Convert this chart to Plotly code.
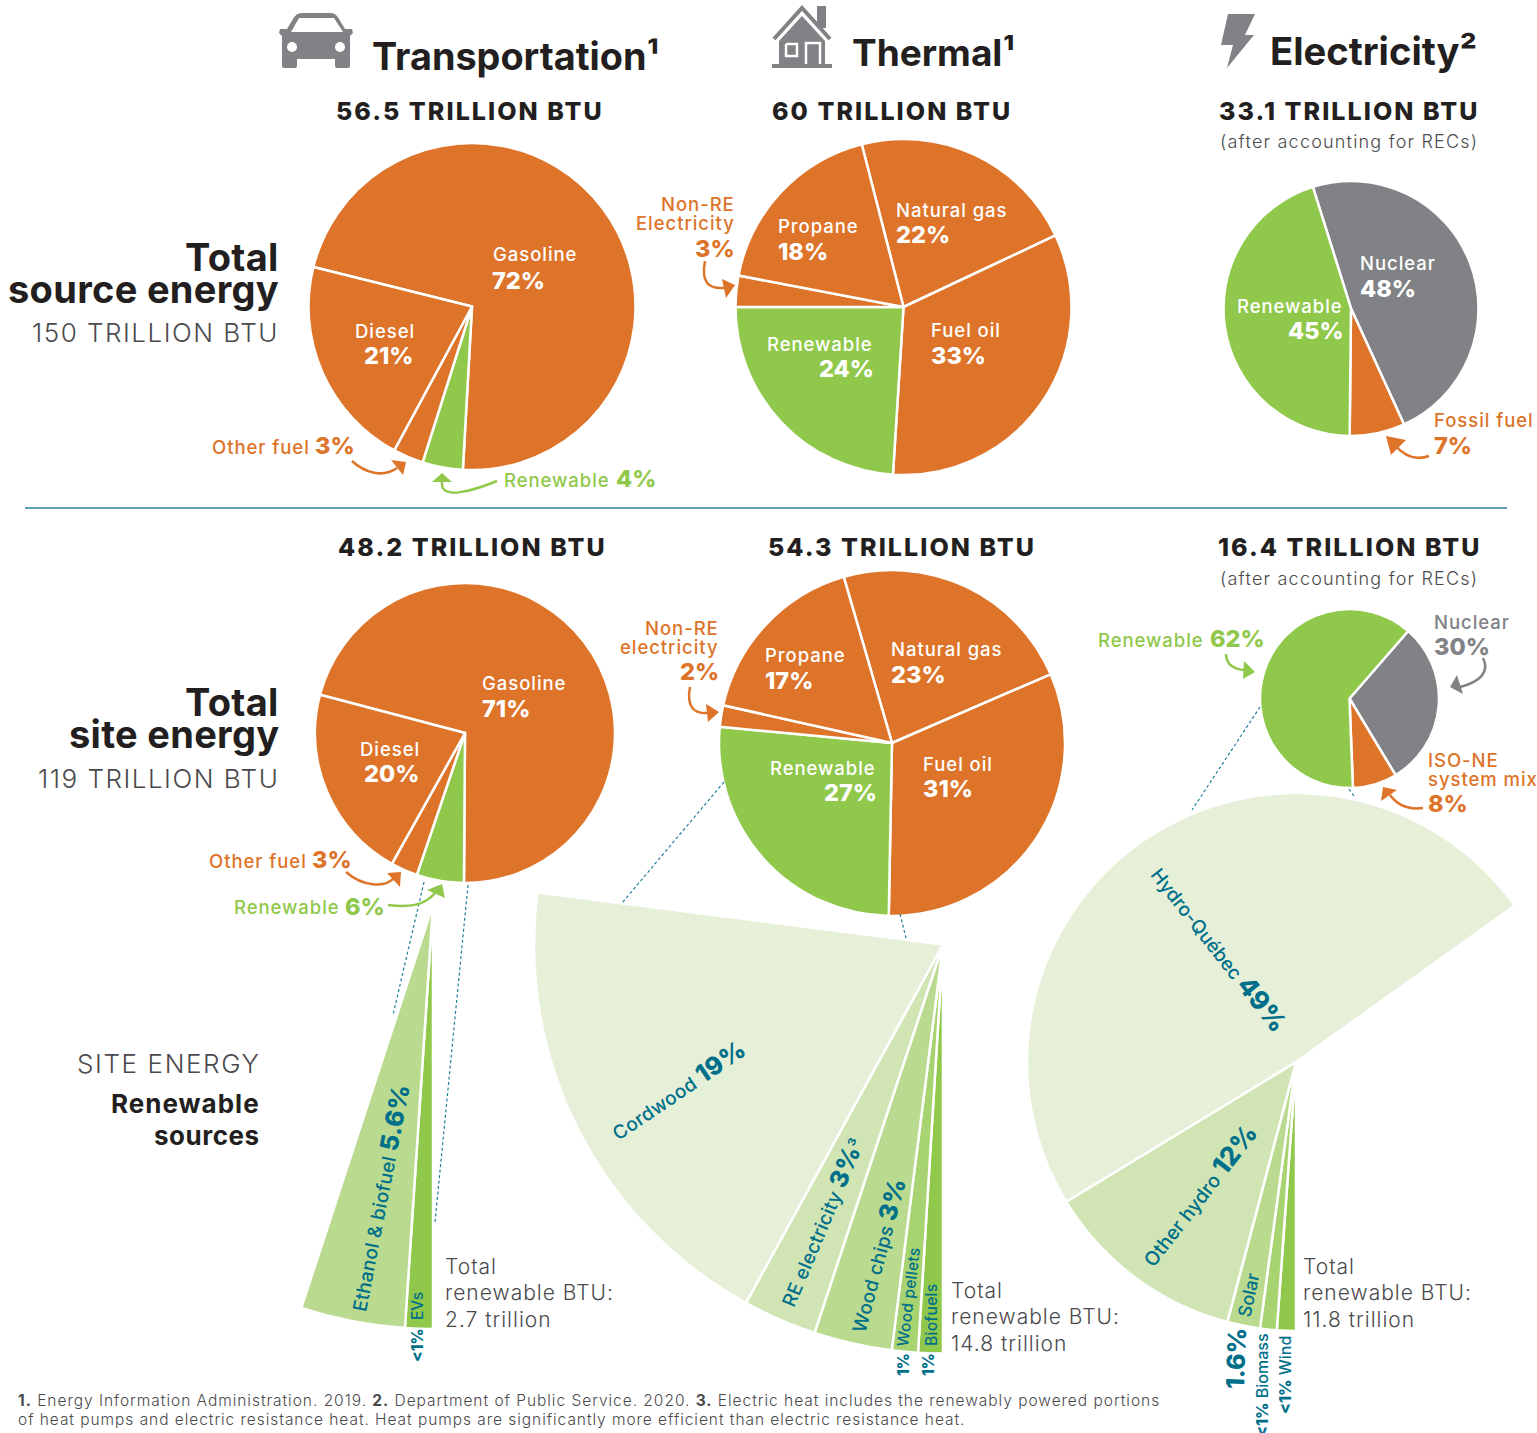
import plotly.graph_objects as go

W, H = 1600, 1433  # canvas runs a little past the 1537 window so the largest fan's full circle fits its domain
ORANGE = "#dd742a"; GREEN = "#90c84b"; GRAY = "#808285"; TEAL = "#006f8a"; INK = "#231f20"; SOFT = "#4a4a4c"
F1 = "#e6f0d8"; F2 = "#d0e5b3"; F3 = "#b9da8f"; F4 = "#a7d370"; F5 = GREEN
FONT = "Inter"

# --- main pies (shares)
src_trans_labels = ["Gasoline", "Renewable", "Other fuel", "Diesel"]
src_trans_values = [72, 4, 3, 21]
src_therm_labels = ["Natural gas", "Fuel oil", "Renewable", "Non-RE Electricity", "Propane"]
src_therm_values = [22, 33, 24, 3, 18]
src_elec_labels = ["Nuclear", "Fossil fuel", "Renewable"]
src_elec_values = [48, 7, 45]
site_trans_labels = ["Gasoline", "Renewable", "Other fuel", "Diesel"]
site_trans_values = [71, 5.1, 2.9, 21]
site_therm_labels = ["Natural gas", "Fuel oil", "Renewable", "Non-RE electricity", "Propane"]
site_therm_values = [23, 31.8, 26.2, 2, 17]
site_elec_labels = ["Nuclear", "ISO-NE system mix", "Renewable"]
site_elec_values = [30, 8, 62]

# --- renewable fans: angular widths (degrees of a full turn)
fan_trans_labels = ["EVs", "Ethanol & biofuel"]
fan_trans_values = [3.8, 14.3]
fan_therm_labels = ["Biofuels", "Wood pellets", "Wood chips", "RE electricity", "Cordwood"]
fan_therm_values = [3.5, 3.7, 11.1, 10.5, 68.5]
fan_elec_labels = ["Wind", "Biomass", "Solar", "Other hydro", "Hydro-Québec"]
fan_elec_values = [4.1, 3.6, 7.1, 43.9, 175.7]


def pie(labels, values, colors, cx, cy, r, rot, lw=2.5):
    return go.Pie(labels=labels, values=values, sort=False, direction="clockwise", rotation=rot,
                  domain=dict(x=[(cx - r) / W, (cx + r) / W], y=[1 - (cy + r) / H, 1 - (cy - r) / H]),
                  marker=dict(colors=colors, line=dict(color="white", width=lw)),
                  textinfo="none", hoverinfo="label+value", showlegend=False)


def fan(labels, values, colors, cx, cy, r, rot):
    rest = 360 - sum(values)
    return go.Pie(labels=labels + [" "], values=values + [rest], sort=False, direction="clockwise", rotation=rot,
                  domain=dict(x=[(cx - r) / W, (cx + r) / W], y=[1 - (cy + r) / H, 1 - (cy - r) / H]),
                  marker=dict(colors=colors + ["rgba(0,0,0,0)"],
                              line=dict(color="white", width=[2.5] * len(values) + [0])),
                  textinfo="none", hoverinfo="label", showlegend=False)


fig = go.Figure()
fig.add_trace(fan(fan_trans_labels, fan_trans_values, [F5, F3], 433, 905, 424, 180))
fig.add_trace(fan(fan_therm_labels, fan_therm_values, [F5, F4, F3, F2, F1], 943, 944.5, 409, 180))
fig.add_trace(fan(fan_elec_labels, fan_elec_values, [F5, F4, F3, F2, F1], 1296, 1062, 269, 180))
fig.add_trace(pie(src_trans_labels, src_trans_values, [ORANGE, GREEN, ORANGE, ORANGE], 472, 306.5, 163.5, 284))
fig.add_trace(pie(src_therm_labels, src_therm_values, [ORANGE, ORANGE, GREEN, ORANGE, ORANGE], 903.5, 307, 168, -14.4))
fig.add_trace(pie(src_elec_labels, src_elec_values, [GRAY, ORANGE, GREEN], 1351, 308.5, 127.5, -17.4))
fig.add_trace(pie(site_trans_labels, site_trans_values, [ORANGE, GREEN, ORANGE, ORANGE], 465, 733, 150, 284.8))
fig.add_trace(pie(site_therm_labels, site_therm_values, [ORANGE, ORANGE, GREEN, ORANGE, ORANGE], 892, 743, 173, -16.2))
fig.add_trace(pie(site_elec_labels, site_elec_values, [GRAY, ORANGE, GREEN], 1349.5, 698.5, 89.5, 41))

annotations = []
shapes = []


def T(x, y, text, size=19, color=INK, anchor="left", weight=500, angle=0, sp=0):
    if anchor == "left":
        x -= 0.8
    elif anchor == "right":
        x += 2
    if sp:
        text = f'<span style="letter-spacing:{sp}px">{text}</span>'
    annotations.append(dict(x=x / W, y=1 - y / H, xref="paper", yref="paper", text=text, showarrow=False,
                            xanchor=anchor, yanchor="middle", textangle=angle, borderpad=0,
                            font=dict(family=FONT, size=size, color=color, weight=weight)))


def path(d, fill=None, stroke=None, width=0):
    # d is a list of (command, points) in page pixels
    s = ""
    for cmd, pts in d:
        if cmd == "L":
            s += " ".join(f"L{px / W:.5f},{1 - py / H:.5f}" for px, py in pts) + " "
        else:
            s += cmd + " ".join(f"{px / W:.5f},{1 - py / H:.5f}" for px, py in pts) + " "
    if fill:
        s += "Z"
    shapes.append(dict(type="path", path=s, xref="paper", yref="paper",
                       fillcolor=fill or "rgba(0,0,0,0)",
                       line=dict(color=stroke or "rgba(0,0,0,0)", width=width)))


def poly(points, fill):
    path([("M", [points[0]]), ("L", points[1:])], fill=fill)


def arrow(start, c1, c2, end, head, color):
    path([("M", [start]), ("C", [c1, c2, end])], stroke=color, width=2.5)
    poly(head, color)


def dash(a, b):
    shapes.append(dict(type="line", xref="paper", yref="paper", x0=a[0] / W, y0=1 - a[1] / H, x1=b[0] / W,
                       y1=1 - b[1] / H, line=dict(color="#1f7f9c", width=1.2, dash="3px,2.5px")))


def circle(cx, cy, r, fill):
    shapes.append(dict(type="circle", xref="paper", yref="paper", x0=(cx - r) / W, x1=(cx + r) / W,
                       y0=1 - (cy + r) / H, y1=1 - (cy - r) / H, fillcolor=fill, line=dict(width=0)))


# --- icons
path([("M", [(302, 13)]), ("L", [(331, 13)]), ("Q", [(336, 13), (339, 19)]), ("L", [(345, 29), (352, 29), (353, 33), (350, 36), (350, 66)]),
      ("Q", [(350, 68), (348, 68)]), ("L", [(337, 68)]), ("Q", [(335, 68), (335, 66)]), ("L", [(335, 59), (297, 59), (297, 66)]),
      ("Q", [(297, 68), (295, 68)]), ("L", [(284, 68)]), ("Q", [(282, 68), (282, 66)]), ("L", [(282, 36), (279, 33), (280, 29), (287, 29), (293, 19)]),
      ("Q", [(296, 13), (302, 13)])], fill=GRAY)
poly([(299, 18), (334, 18), (343, 32), (291, 32)], "white")
circle(292, 47, 5, "white")
circle(340, 47, 5, "white")
poly([(817, 6), (826, 6), (826, 28), (817, 28)], GRAY)
path([("M", [(774, 39)]), ("L", [(802, 8), (830, 39)])], stroke=GRAY, width=4)
poly([(802, 16), (779, 41), (779, 64), (825, 64), (825, 41)], GRAY)
poly([(772, 64), (832, 64), (832, 68), (772, 68)], GRAY)
path([("M", [(786, 44)]), ("L", [(797, 44), (797, 56), (786, 56), (786, 44)])], stroke="white", width=2.5)
path([("M", [(806, 64)]), ("L", [(806, 43), (820, 43), (820, 64)])], stroke="white", width=2.5)
poly([(1228, 14), (1255, 14), (1245, 35), (1254, 35), (1227, 68), (1233, 45), (1221, 45)], GRAY)

# --- divider and connectors
shapes.append(dict(type="line", xref="paper", yref="paper", x0=25 / W, x1=1507 / W, y0=1 - 508 / H, y1=1 - 508 / H,
                   line=dict(color="#2b7f96", width=1.5)))
dash((424, 882), (393, 1015))
dash((468, 885), (435, 1222))
dash((724, 782), (622, 903))
dash((900, 914), (906, 938))
dash((1260, 707), (1192, 810))
dash((1349, 789), (1354, 796))

# --- arrows
arrow((352, 461), (365, 473), (383, 478), (397, 468), [(391, 460), (406, 462), (403, 475)], ORANGE)
arrow((497, 481), (470, 492), (440, 500), (442, 482), [(432, 482), (442, 473), (452, 482)], GREEN)
arrow((705, 261), (701, 282), (708, 289), (724, 288), [(722, 279), (735, 285), (726, 298)], ORANGE)
arrow((1429, 456), (1415, 461), (1403, 455), (1394, 444), [(1386, 436), (1406, 440), (1391, 455)], ORANGE)
arrow((346, 872), (362, 886), (385, 889), (395, 877), [(387, 873), (401, 872), (400, 887)], ORANGE)
arrow((388, 905), (410, 908), (425, 905), (435, 893), [(427, 890), (442, 884), (445, 898)], GREEN)
arrow((690, 687), (686, 708), (695, 714), (708, 713), [(706, 704), (719, 712), (708, 722)], ORANGE)
arrow((1226, 654), (1226, 665), (1235, 670), (1245, 670), [(1244, 661), (1255, 672), (1243, 679)], GREEN)
arrow((1483, 658), (1490, 672), (1480, 682), (1460, 687), [(1457, 675), (1450, 687), (1463, 694)], GRAY)
arrow((1423, 808), (1408, 810), (1398, 806), (1390, 795), [(1383, 787), (1397, 790), (1381, 801)], ORANGE)

# --- headings
T(372, 56, "Transportation¹", 37.8, INK, weight=700)
T(852, 52, "Thermal¹", 37, INK, weight=700)
T(1270, 51, "Electricity²", 38.2, INK, weight=700)
HB = 25
HS = 2.05
T(470, 111, "56.5 TRILLION BTU", HB, INK, "center", 800, sp=HS)
T(892, 111, "60 TRILLION BTU", HB, INK, "center", 800, sp=HS)
T(1349, 111, "33.1 TRILLION BTU", HB, INK, "center", 800, sp=HS)
T(1349, 142, "(after accounting for RECs)", 18, SOFT, "center", 300, sp=1.2)
T(472, 547, "48.2 TRILLION BTU", HB, INK, "center", 800, sp=HS)
T(902, 547, "54.3 TRILLION BTU", HB, INK, "center", 800, sp=HS)
T(1349, 547, "16.4 TRILLION BTU", HB, INK, "center", 800, sp=HS)
T(1349, 579, "(after accounting for RECs)", 18, SOFT, "center", 300, sp=1.2)
T(278, 257, "Total", 38, INK, "right", 700, sp=0.3)
T(278, 289, "source energy", 38, INK, "right", 700, sp=0.3)
T(278, 333, "150 TRILLION BTU", 26, SOFT, "right", 300, sp=1.5)
T(278, 702, "Total", 38, INK, "right", 700, sp=0.3)
T(278, 734, "site energy", 38, INK, "right", 700, sp=0.3)
T(278, 778, "119 TRILLION BTU", 26, SOFT, "right", 300, sp=1.5)
T(259, 1063, "SITE ENERGY", 26, SOFT, "right", 300, sp=1.6)
T(259, 1103, "Renewable", 26, INK, "right", 700, sp=1)
T(259, 1135, "sources", 26, INK, "right", 700, sp=0.5)

# --- pie labels
L = 18.5; P = 23.5; PW = 800
for x, y, txt, sz, col, anc, wt in [
    (493, 254, "Gasoline", L, "white", "left", 500), (492, 280, "72%", P, "white", "left", PW),
    (355, 331, "Diesel", L, "white", "left", 500), (413, 356, "21%", P, "white", "right", PW),
    (309, 447, "Other fuel", L, ORANGE, "right", 500), (315, 445, "3%", P, ORANGE, "left", PW),
    (504, 480, "Renewable", L, GREEN, "left", 500), (616, 478, "4%", P, GREEN, "left", PW),
    (896, 210, "Natural gas", L, "white", "left", 500), (896, 235, "22%", P, "white", "left", PW),
    (778, 226, "Propane", L, "white", "left", 500), (778, 251, "18%", P, "white", "left", PW),
    (931, 330, "Fuel oil", L, "white", "left", 500), (931, 355, "33%", P, "white", "left", PW),
    (767, 344, "Renewable", L, "white", "left", 500), (873, 368, "24%", P, "white", "right", PW),
    (734, 204, "Non-RE", L, ORANGE, "right", 500), (734, 223, "Electricity", L, ORANGE, "right", 500),
    (734, 248, "3%", P, ORANGE, "right", PW),
    (1360, 263, "Nuclear", L, "white", "left", 500), (1360, 288, "48%", P, "white", "left", PW),
    (1237, 306, "Renewable", L, "white", "left", 500), (1343, 331, "45%", P, "white", "right", PW),
    (1434, 420, "Fossil fuel", L, ORANGE, "left", 500), (1434, 445, "7%", P, ORANGE, "left", PW),
    (482, 683, "Gasoline", L, "white", "left", 500), (482, 708, "71%", P, "white", "left", PW),
    (360, 749, "Diesel", L, "white", "left", 500), (364, 773, "20%", P, "white", "left", PW),
    (306, 861, "Other fuel", L, ORANGE, "right", 500), (312, 859, "3%", P, ORANGE, "left", PW),
    (339, 907, "Renewable", L, GREEN, "right", 500), (345, 906, "6%", P, GREEN, "left", PW),
    (891, 649, "Natural gas", L, "white", "left", 500), (891, 674, "23%", P, "white", "left", PW),
    (765, 655, "Propane", L, "white", "left", 500), (765, 680, "17%", P, "white", "left", PW),
    (923, 764, "Fuel oil", L, "white", "left", 500), (923, 788, "31%", P, "white", "left", PW),
    (770, 768, "Renewable", L, "white", "left", 500), (876, 793, "27%", P, "white", "right", PW),
    (718, 628, "Non-RE", L, ORANGE, "right", 500), (718, 647, "electricity", L, ORANGE, "right", 500),
    (718, 671, "2%", P, ORANGE, "right", PW),
    (1098, 640, "Renewable", L, GREEN, "left", 500), (1210, 638, "62%", P, GREEN, "left", PW),
    (1434, 622, "Nuclear", L, GRAY, "left", 500), (1434, 646, "30%", P, GRAY, "left", PW),
    (1428, 760, "ISO-NE", L, ORANGE, "left", 500), (1428, 779, "system mix", L, ORANGE, "left", 500),
    (1428, 803, "8%", P, ORANGE, "left", PW),
]:
    T(x, y, txt, sz, col, anc, wt, sp=(0 if wt == PW else 0.95))


def pct(s, size):
    return f'<span style="font-size:{size}px;font-weight:800">{s}</span>'


# --- fan labels
T(678, 1090, "Cordwood " + pct("19%", 25), 19, TEAL, "center", 500, -34, sp=0.3)
T(821, 1222, "RE electricity " + pct("3%", 25) + "³", 19, TEAL, "center", 500, -67, sp=0.3)
T(877, 1255, "Wood chips " + pct("3%", 25), 19, TEAL, "center", 500, -75, sp=0.3)
T(908, 1297, "Wood pellets", 15.5, TEAL, "center", 500, -83, sp=0.3)
T(931, 1315, "Biofuels", 15.5, TEAL, "center", 500, -90, sp=0.3)
T(903, 1364, "1%", 15.5, TEAL, "center", 800, -90)
T(928, 1364, "1%", 15.5, TEAL, "center", 800, -90)
T(379, 1198, "Ethanol &amp; biofuel " + pct("5.6%", 25), 19, TEAL, "center", 500, -79, sp=0.3)
T(417, 1306, "EVs", 15.5, TEAL, "center", 500, -90)
T(417, 1346, "&lt;1%", 15.5, TEAL, "center", 800, -90)
T(1219, 949, "Hydro-Québec " + pct("49%", 26), 19, TEAL, "center", 500, 52)
T(1198, 1195, "Other hydro " + pct("12%", 26), 19.5, TEAL, "center", 500, -52)
T(1248, 1295, "Solar", 18, TEAL, "center", 500, -78)
T(1236, 1359, "1.6%", 25, TEAL, "center", 800, -88)
T(1262, 1385, pct("&lt;1%", 16) + " Biomass", 16, TEAL, "center", 500, -90)
T(1285, 1375, pct("&lt;1%", 16) + " Wind", 16, TEAL, "center", 500, -90)

# --- totals
for x, ys, val in [(445, (1266, 1292, 1319), "2.7 trillion"), (951, (1290, 1316, 1343), "14.8 trillion"),
                   (1303, (1266, 1292, 1319), "11.8 trillion")]:
    T(x, ys[0], "Total", 21, SOFT, "left", 300, sp=1)
    T(x, ys[1], "renewable BTU:", 21, SOFT, "left", 300, sp=1)
    T(x, ys[2], val, 21, SOFT, "left", 300, sp=1)

# --- footnotes
T(18, 1400, "<b>1.</b> Energy Information Administration. 2019. <b>2.</b> Department of Public Service. 2020. "
            "<b>3.</b> Electric heat includes the renewably powered portions", 15.5, SOFT, "left", 300, sp=0.97)
T(18, 1419, "of heat pumps and electric resistance heat. Heat pumps are significantly more efficient than electric resistance heat.",
  15.5, SOFT, "left", 300, sp=0.95)

fig.update_layout(width=W, height=H, margin=dict(l=0, r=0, t=0, b=0), paper_bgcolor="white", plot_bgcolor="white",
                  showlegend=False, annotations=annotations, shapes=shapes, font=dict(family=FONT))
fig.write_html("out.html", config=dict(displayModeBar=False),
               post_script="document.body.style.margin='0';document.body.style.overflow='hidden';")
